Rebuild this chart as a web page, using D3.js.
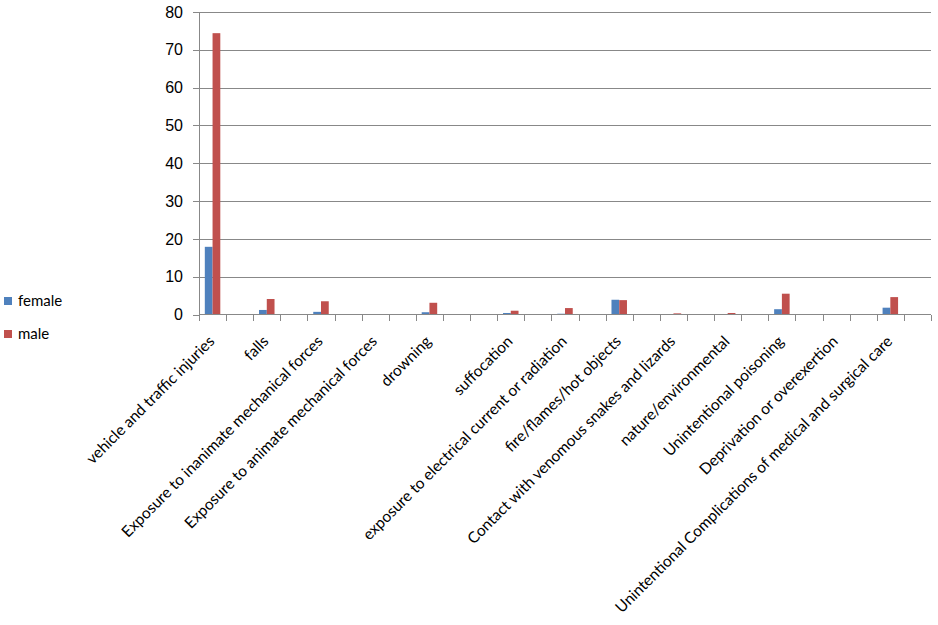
<!DOCTYPE html>
<html>
<head>
<meta charset="utf-8">
<script src="https://cdn.jsdelivr.net/npm/d3@7"></script>
<style>
  body { margin: 0; background: #fff; }
  svg { display: block; }
  .axis path, .axis line { stroke: #888; shape-rendering: crispEdges; }
  .axis text { fill: #000; }
</style>
</head>
<body>
<script>
// categories and where they sit along the 27 axis slots
var categories = ["vehicle and traffic injuries", "falls", "Exposure to inanimate mechanical forces",
  "Exposure to animate mechanical forces", "drowning", "suffocation",
  "exposure to electrical current or radiation", "fire/flames/hot objects",
  "Contact with venomous snakes and lizards", "nature/environmental", "Unintentional poisoning",
  "Deprivation or overexertion", "Unintentional Complications of medical and surgical care"];
var slots = [0, 2, 4, 6, 8, 11, 13, 15, 17, 19, 21, 23, 25];
var slotCount = 27;

var female = [17.9, 1.2, 0.7, 0, 0.6, 0.4, 0.2, 3.9, 0, 0, 1.4, 0, 1.8];
var male = [74.4, 4.1, 3.5, 0, 3.1, 1.0, 1.7, 3.8, 0.3, 0.4, 5.5, 0, 4.6];

var yTicks = [0, 10, 20, 30, 40, 50, 60, 70, 80];
var series = [{name: "female", values: female, color: "#4F81BD"},
              {name: "male", values: male, color: "#C0504D"}];

var width = 938, height = 625;
var plotL = 199, plotR = 931, plotT = 12, plotB = 314.5;

var svg = d3.select("body").append("svg").attr("width", width).attr("height", height);

var x = d3.scaleLinear().domain([0, slotCount]).range([plotL, plotR]);
var y = d3.scaleLinear().domain([0, 80]).range([plotB, plotT]);
var slotW = x(1) - x(0);
var barW = slotW / 3.5;

// gridlines
svg.append("g").selectAll("line").data(yTicks.filter(d => d > 0)).enter().append("line")
  .attr("x1", plotL).attr("x2", plotR)
  .attr("y1", d => Math.round(y(d)) + 0.5).attr("y2", d => Math.round(y(d)) + 0.5)
  .attr("stroke", "#888").attr("shape-rendering", "crispEdges");

// bars
series.forEach(function (s, si) {
  svg.append("g").selectAll("rect").data(s.values).enter().append("rect")
    .attr("x", (d, i) => x(slots[i]) + barW * 0.75 + si * barW)
    .attr("width", barW)
    .attr("y", d => y(d))
    .attr("height", d => y(0) - y(d))
    .attr("fill", s.color);
});

// y axis
var yAxis = svg.append("g").attr("class", "axis").attr("transform", "translate(" + plotL + ",0)")
  .call(d3.axisLeft(y).tickValues(yTicks).tickSize(6).tickPadding(10));
yAxis.selectAll("text").style("font-family", "Liberation Sans, Arial, sans-serif").style("font-size", "16px");

// x axis
var xAxis = svg.append("g").attr("class", "axis").attr("transform", "translate(0," + plotB + ")")
  .call(d3.axisBottom(x).tickValues(d3.range(slotCount + 1)).tickSize(6).tickFormat(""));
xAxis.select(".domain").attr("d", "M" + plotL + ",0H" + plotR);

// category labels
svg.append("g").selectAll("text").data(categories).enter().append("text")
  .attr("transform", (d, i) => "translate(" + (x(slots[i]) + slotW / 2 - 1) + "," + (plotB + 24) + ") rotate(-45)")
  .attr("text-anchor", "end")
  .attr("dy", "0.35em")
  .style("font-family", "Lato, sans-serif")
  .style("font-size", "15.5px")
  .text(d => d);

// legend
var legend = svg.append("g").selectAll("g").data(series).enter().append("g")
  .attr("transform", (d, i) => "translate(4," + (297 + i * 33) + ")");
legend.append("rect").attr("width", 8).attr("height", 8).attr("fill", d => d.color);
legend.append("text").attr("x", 14).attr("y", 8.5)
  .style("font-family", "Lato, sans-serif").style("font-size", "15px")
  .text(d => d.name);
</script>
</body>
</html>
